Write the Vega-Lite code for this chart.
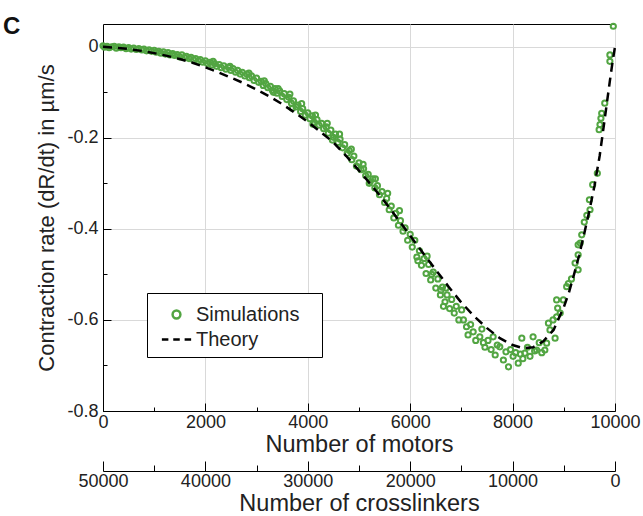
{
  "$schema": "https://vega.github.io/schema/vega-lite/v6.json",
  "autosize": "none",
  "width": 512,
  "height": 387,
  "padding": {"left": 103, "top": 24, "right": 28, "bottom": 105},
  "config": {
    "font": "Liberation Sans",
    "view": {"stroke": "black", "strokeWidth": 1},
    "axis": {"labelFont": "Liberation Sans", "titleFont": "Liberation Sans", "labelColor": "#222", "titleColor": "#222", "domainColor": "black", "tickColor": "black", "labelFontSize": 18, "titleFontSize": 22, "titleFontWeight": "normal", "gridColor": "#d9d9d9"}
  },
  "title": {"text": "C", "anchor": "start", "frame": "group", "dx": -100, "fontSize": 24, "fontWeight": "bold", "font": "Liberation Sans", "color": "#111", "baseline": "alphabetic", "offset": 0, "dy": 38},
  "datasets": {
    "sim": [
      {"m":0,"v":0.002,"series":"Simulations"},{"m":30,"v":-0.001,"series":"Simulations"},{"m":80,"v":0.001,"series":"Simulations"},{"m":120,"v":-0.002,"series":"Simulations"},{"m":170,"v":0.0,"series":"Simulations"},{"m":220,"v":0.001,"series":"Simulations"},{"m":260,"v":-0.003,"series":"Simulations"},{"m":310,"v":0.0,"series":"Simulations"},{"m":350,"v":-0.002,"series":"Simulations"},{"m":400,"v":-0.001,"series":"Simulations"},{"m":450,"v":-0.004,"series":"Simulations"},{"m":500,"v":-0.002,"series":"Simulations"},{"m":550,"v":-0.005,"series":"Simulations"},{"m":600,"v":-0.003,"series":"Simulations"},{"m":650,"v":-0.006,"series":"Simulations"},{"m":700,"v":-0.004,"series":"Simulations"},{"m":760,"v":-0.007,"series":"Simulations"},{"m":800,"v":-0.005,"series":"Simulations"},{"m":850,"v":-0.009,"series":"Simulations"},{"m":900,"v":-0.007,"series":"Simulations"},{"m":950,"v":-0.01,"series":"Simulations"},{"m":1000,"v":-0.008,"series":"Simulations"},
      {"m":1040,"v":-0.012,"series":"Simulations"},{"m":1090,"v":-0.01,"series":"Simulations"},{"m":1130,"v":-0.014,"series":"Simulations"},{"m":1180,"v":-0.011,"series":"Simulations"},{"m":1220,"v":-0.016,"series":"Simulations"},{"m":1270,"v":-0.013,"series":"Simulations"},{"m":1310,"v":-0.018,"series":"Simulations"},{"m":1360,"v":-0.015,"series":"Simulations"},{"m":1400,"v":-0.019,"series":"Simulations"},{"m":1450,"v":-0.017,"series":"Simulations"},{"m":1500,"v":-0.022,"series":"Simulations"},{"m":1540,"v":-0.018,"series":"Simulations"},{"m":1590,"v":-0.024,"series":"Simulations"},{"m":1630,"v":-0.021,"series":"Simulations"},{"m":1680,"v":-0.026,"series":"Simulations"},{"m":1720,"v":-0.023,"series":"Simulations"},{"m":1770,"v":-0.029,"series":"Simulations"},{"m":1810,"v":-0.026,"series":"Simulations"},{"m":1860,"v":-0.031,"series":"Simulations"},{"m":1900,"v":-0.028,"series":"Simulations"},{"m":1950,"v":-0.034,"series":"Simulations"},{"m":2000,"v":-0.031,"series":"Simulations"},
      {"m":2040,"v":-0.037,"series":"Simulations"},{"m":2090,"v":-0.034,"series":"Simulations"},{"m":2130,"v":-0.04,"series":"Simulations"},{"m":2180,"v":-0.037,"series":"Simulations"},{"m":2220,"v":-0.043,"series":"Simulations"},{"m":2270,"v":-0.039,"series":"Simulations"},{"m":2310,"v":-0.046,"series":"Simulations"},{"m":2360,"v":-0.042,"series":"Simulations"},{"m":2400,"v":-0.049,"series":"Simulations"},{"m":2450,"v":-0.045,"series":"Simulations"},{"m":2500,"v":-0.052,"series":"Simulations"},{"m":2540,"v":-0.048,"series":"Simulations"},{"m":2590,"v":-0.056,"series":"Simulations"},{"m":2630,"v":-0.052,"series":"Simulations"},{"m":2680,"v":-0.06,"series":"Simulations"},{"m":2720,"v":-0.056,"series":"Simulations"},{"m":2770,"v":-0.064,"series":"Simulations"},{"m":2810,"v":-0.06,"series":"Simulations"},{"m":2860,"v":-0.068,"series":"Simulations"},{"m":2900,"v":-0.064,"series":"Simulations"},{"m":2950,"v":-0.074,"series":"Simulations"},{"m":3000,"v":-0.069,"series":"Simulations"},
      {"m":3040,"v":-0.078,"series":"Simulations"},{"m":3090,"v":-0.076,"series":"Simulations"},{"m":3130,"v":-0.085,"series":"Simulations"},{"m":3180,"v":-0.081,"series":"Simulations"},{"m":3220,"v":-0.09,"series":"Simulations"},{"m":3270,"v":-0.087,"series":"Simulations"},{"m":3310,"v":-0.096,"series":"Simulations"},{"m":3360,"v":-0.092,"series":"Simulations"},{"m":3400,"v":-0.102,"series":"Simulations"},{"m":3450,"v":-0.097,"series":"Simulations"},{"m":3500,"v":-0.109,"series":"Simulations"},{"m":3540,"v":-0.103,"series":"Simulations"},{"m":3590,"v":-0.116,"series":"Simulations"},{"m":3630,"v":-0.111,"series":"Simulations"},{"m":3680,"v":-0.124,"series":"Simulations"},{"m":3720,"v":-0.119,"series":"Simulations"},{"m":3770,"v":-0.132,"series":"Simulations"},{"m":3810,"v":-0.128,"series":"Simulations"},{"m":3860,"v":-0.142,"series":"Simulations"},{"m":3900,"v":-0.136,"series":"Simulations"},{"m":3950,"v":-0.15,"series":"Simulations"},{"m":4000,"v":-0.145,"series":"Simulations"},
      {"m":4040,"v":-0.158,"series":"Simulations"},{"m":4090,"v":-0.152,"series":"Simulations"},{"m":4130,"v":-0.166,"series":"Simulations"},{"m":4180,"v":-0.16,"series":"Simulations"},{"m":4220,"v":-0.172,"series":"Simulations"},{"m":4270,"v":-0.168,"series":"Simulations"},{"m":4310,"v":-0.18,"series":"Simulations"},{"m":4360,"v":-0.176,"series":"Simulations"},{"m":4400,"v":-0.19,"series":"Simulations"},{"m":4450,"v":-0.183,"series":"Simulations"},{"m":4500,"v":-0.199,"series":"Simulations"},{"m":4540,"v":-0.192,"series":"Simulations"},{"m":4590,"v":-0.21,"series":"Simulations"},{"m":4630,"v":-0.203,"series":"Simulations"},{"m":4680,"v":-0.222,"series":"Simulations"},{"m":4720,"v":-0.215,"series":"Simulations"},{"m":4770,"v":-0.234,"series":"Simulations"},{"m":4810,"v":-0.228,"series":"Simulations"},{"m":4860,"v":-0.248,"series":"Simulations"},{"m":4900,"v":-0.24,"series":"Simulations"},{"m":4950,"v":-0.262,"series":"Simulations"},{"m":5000,"v":-0.255,"series":"Simulations"},
      {"m":5040,"v":-0.27,"series":"Simulations"},{"m":5090,"v":-0.268,"series":"Simulations"},{"m":5130,"v":-0.283,"series":"Simulations"},{"m":5180,"v":-0.28,"series":"Simulations"},{"m":5220,"v":-0.296,"series":"Simulations"},{"m":5270,"v":-0.29,"series":"Simulations"},{"m":5310,"v":-0.31,"series":"Simulations"},{"m":5360,"v":-0.305,"series":"Simulations"},{"m":5400,"v":-0.325,"series":"Simulations"},{"m":5450,"v":-0.318,"series":"Simulations"},{"m":5500,"v":-0.342,"series":"Simulations"},{"m":5540,"v":-0.333,"series":"Simulations"},{"m":5590,"v":-0.358,"series":"Simulations"},{"m":5630,"v":-0.35,"series":"Simulations"},{"m":5680,"v":-0.376,"series":"Simulations"},{"m":5720,"v":-0.366,"series":"Simulations"},{"m":5770,"v":-0.392,"series":"Simulations"},{"m":5810,"v":-0.382,"series":"Simulations"},{"m":5860,"v":-0.405,"series":"Simulations"},{"m":5900,"v":-0.398,"series":"Simulations"},{"m":5950,"v":-0.425,"series":"Simulations"},{"m":6000,"v":-0.412,"series":"Simulations"},
      {"m":6040,"v":-0.44,"series":"Simulations"},{"m":6090,"v":-0.425,"series":"Simulations"},{"m":6130,"v":-0.462,"series":"Simulations"},{"m":6180,"v":-0.448,"series":"Simulations"},{"m":6220,"v":-0.48,"series":"Simulations"},{"m":6270,"v":-0.465,"series":"Simulations"},{"m":6310,"v":-0.498,"series":"Simulations"},{"m":6360,"v":-0.478,"series":"Simulations"},{"m":6400,"v":-0.512,"series":"Simulations"},{"m":6450,"v":-0.495,"series":"Simulations"},{"m":6500,"v":-0.53,"series":"Simulations"},{"m":6540,"v":-0.51,"series":"Simulations"},{"m":6590,"v":-0.545,"series":"Simulations"},{"m":6630,"v":-0.528,"series":"Simulations"},{"m":6680,"v":-0.56,"series":"Simulations"},{"m":6720,"v":-0.545,"series":"Simulations"},{"m":6770,"v":-0.575,"series":"Simulations"},{"m":6810,"v":-0.555,"series":"Simulations"},{"m":6860,"v":-0.585,"series":"Simulations"},{"m":6900,"v":-0.57,"series":"Simulations"},
      {"m":2150,"v":-0.032,"series":"Simulations"},{"m":2480,"v":-0.043,"series":"Simulations"},{"m":2850,"v":-0.058,"series":"Simulations"},{"m":3150,"v":-0.075,"series":"Simulations"},{"m":3420,"v":-0.092,"series":"Simulations"},{"m":3650,"v":-0.104,"series":"Simulations"},{"m":3880,"v":-0.125,"series":"Simulations"},{"m":4150,"v":-0.15,"series":"Simulations"},{"m":4380,"v":-0.168,"series":"Simulations"},{"m":4620,"v":-0.192,"series":"Simulations"},{"m":4850,"v":-0.225,"series":"Simulations"},{"m":5080,"v":-0.258,"series":"Simulations"},{"m":5320,"v":-0.29,"series":"Simulations"},{"m":5560,"v":-0.322,"series":"Simulations"},{"m":5790,"v":-0.36,"series":"Simulations"},{"m":3330,"v":-0.1,"series":"Simulations"},{"m":3700,"v":-0.135,"series":"Simulations"},{"m":4100,"v":-0.17,"series":"Simulations"},{"m":4480,"v":-0.205,"series":"Simulations"},{"m":5200,"v":-0.3,"series":"Simulations"},{"m":6150,"v":-0.47,"series":"Simulations"},{"m":6330,"v":-0.46,"series":"Simulations"},{"m":6420,"v":-0.5,"series":"Simulations"},{"m":6600,"v":-0.535,"series":"Simulations"},{"m":6650,"v":-0.57,"series":"Simulations"},{"m":6700,"v":-0.53,"series":"Simulations"},
      {"m":6950,"v":-0.6,"series":"Simulations"},{"m":7005,"v":-0.578,"series":"Simulations"},{"m":7040,"v":-0.6,"series":"Simulations"},{"m":7100,"v":-0.615,"series":"Simulations"},{"m":7130,"v":-0.633,"series":"Simulations"},{"m":7180,"v":-0.61,"series":"Simulations"},{"m":7230,"v":-0.626,"series":"Simulations"},{"m":7280,"v":-0.645,"series":"Simulations"},{"m":7360,"v":-0.637,"series":"Simulations"},{"m":7400,"v":-0.62,"series":"Simulations"},{"m":7430,"v":-0.65,"series":"Simulations"},{"m":7460,"v":-0.66,"series":"Simulations"},{"m":7520,"v":-0.645,"series":"Simulations"},{"m":7580,"v":-0.665,"series":"Simulations"},{"m":7620,"v":-0.637,"series":"Simulations"},{"m":7660,"v":-0.677,"series":"Simulations"},{"m":7700,"v":-0.655,"series":"Simulations"},{"m":7750,"v":-0.659,"series":"Simulations"},{"m":7820,"v":-0.688,"series":"Simulations"},{"m":7870,"v":-0.67,"series":"Simulations"},{"m":7920,"v":-0.703,"series":"Simulations"},{"m":7960,"v":-0.665,"series":"Simulations"},{"m":8010,"v":-0.68,"series":"Simulations"},{"m":8060,"v":-0.672,"series":"Simulations"},{"m":8110,"v":-0.695,"series":"Simulations"},{"m":8150,"v":-0.675,"series":"Simulations"},{"m":8180,"v":-0.64,"series":"Simulations"},{"m":8200,"v":-0.685,"series":"Simulations"},{"m":8240,"v":-0.673,"series":"Simulations"},{"m":8290,"v":-0.66,"series":"Simulations"},{"m":8340,"v":-0.68,"series":"Simulations"},{"m":8400,"v":-0.637,"series":"Simulations"},{"m":8430,"v":-0.668,"series":"Simulations"},{"m":8470,"v":-0.666,"series":"Simulations"},{"m":8520,"v":-0.65,"series":"Simulations"},{"m":8570,"v":-0.672,"series":"Simulations"},{"m":8630,"v":-0.666,"series":"Simulations"},{"m":8665,"v":-0.651,"series":"Simulations"},{"m":8700,"v":-0.607,"series":"Simulations"},{"m":8730,"v":-0.622,"series":"Simulations"},{"m":8790,"v":-0.6,"series":"Simulations"},{"m":8830,"v":-0.64,"series":"Simulations"},{"m":8860,"v":-0.593,"series":"Simulations"},{"m":8880,"v":-0.574,"series":"Simulations"},{"m":8930,"v":-0.585,"series":"Simulations"},{"m":8860,"v":-0.556,"series":"Simulations"},{"m":8990,"v":-0.556,"series":"Simulations"},{"m":9056,"v":-0.527,"series":"Simulations"},{"m":9090,"v":-0.52,"series":"Simulations"},{"m":9150,"v":-0.51,"series":"Simulations"},{"m":9220,"v":-0.475,"series":"Simulations"},{"m":9280,"v":-0.49,"series":"Simulations"},{"m":9280,"v":-0.457,"series":"Simulations"},{"m":9280,"v":-0.435,"series":"Simulations"},{"m":9320,"v":-0.431,"series":"Simulations"},{"m":9350,"v":-0.413,"series":"Simulations"},{"m":9400,"v":-0.385,"series":"Simulations"},{"m":9450,"v":-0.37,"series":"Simulations"},{"m":9500,"v":-0.336,"series":"Simulations"},{"m":9512,"v":-0.358,"series":"Simulations"},{"m":9564,"v":-0.303,"series":"Simulations"},{"m":9655,"v":-0.278,"series":"Simulations"},{"m":9690,"v":-0.182,"series":"Simulations"},{"m":9707,"v":-0.171,"series":"Simulations"},{"m":9725,"v":-0.157,"series":"Simulations"},{"m":9740,"v":-0.146,"series":"Simulations"},{"m":9800,"v":-0.124,"series":"Simulations"},{"m":9900,"v":-0.032,"series":"Simulations"},{"m":9900,"v":-0.018,"series":"Simulations"},{"m":9967,"v":0.045,"series":"Simulations"}
    ],
    "theory": [
      {"m":0,"v":0,"series":"Theory"},{"m":250,"v":-0.002,"series":"Theory"},{"m":500,"v":-0.005,"series":"Theory"},{"m":750,"v":-0.009,"series":"Theory"},{"m":1000,"v":-0.014,"series":"Theory"},{"m":1250,"v":-0.02,"series":"Theory"},{"m":1500,"v":-0.027,"series":"Theory"},{"m":1750,"v":-0.035,"series":"Theory"},{"m":2000,"v":-0.045,"series":"Theory"},{"m":2250,"v":-0.056,"series":"Theory"},{"m":2500,"v":-0.068,"series":"Theory"},{"m":2750,"v":-0.08,"series":"Theory"},{"m":3000,"v":-0.094,"series":"Theory"},{"m":3250,"v":-0.109,"series":"Theory"},{"m":3500,"v":-0.126,"series":"Theory"},{"m":3750,"v":-0.145,"series":"Theory"},{"m":4000,"v":-0.165,"series":"Theory"},{"m":4250,"v":-0.187,"series":"Theory"},{"m":4500,"v":-0.21,"series":"Theory"},{"m":4750,"v":-0.24,"series":"Theory"},{"m":5000,"v":-0.272,"series":"Theory"},{"m":5250,"v":-0.305,"series":"Theory"},{"m":5500,"v":-0.34,"series":"Theory"},{"m":5750,"v":-0.377,"series":"Theory"},{"m":6000,"v":-0.415,"series":"Theory"},{"m":6250,"v":-0.453,"series":"Theory"},{"m":6500,"v":-0.49,"series":"Theory"},{"m":6750,"v":-0.527,"series":"Theory"},{"m":7000,"v":-0.562,"series":"Theory"},{"m":7250,"v":-0.592,"series":"Theory"},{"m":7500,"v":-0.618,"series":"Theory"},{"m":7750,"v":-0.64,"series":"Theory"},{"m":8000,"v":-0.655,"series":"Theory"},{"m":8200,"v":-0.662,"series":"Theory"},{"m":8400,"v":-0.66,"series":"Theory"},{"m":8600,"v":-0.647,"series":"Theory"},{"m":8800,"v":-0.622,"series":"Theory"},{"m":9000,"v":-0.572,"series":"Theory"},{"m":9100,"v":-0.54,"series":"Theory"},{"m":9200,"v":-0.5,"series":"Theory"},{"m":9300,"v":-0.458,"series":"Theory"},{"m":9400,"v":-0.41,"series":"Theory"},{"m":9500,"v":-0.36,"series":"Theory"},{"m":9600,"v":-0.305,"series":"Theory"},{"m":9700,"v":-0.24,"series":"Theory"},{"m":9800,"v":-0.158,"series":"Theory"},{"m":9900,"v":-0.075,"series":"Theory"},{"m":9950,"v":-0.035,"series":"Theory"},{"m":10000,"v":0,"series":"Theory"}
    ]
  },
  "resolve": {"scale": {"x": "independent"}},
  "layer": [
    {
      "mark": {"type": "rule", "color": "black", "strokeWidth": 1},
      "encoding": {"y": {"datum": 0, "type": "quantitative"}}
    },
    {
      "data": {"name": "sim"},
      "mark": {"type": "point", "filled": false, "size": 300, "strokeWidth": 2, "opacity": 1},
      "encoding": {
        "x": {"field": "m", "type": "quantitative", "scale": {"domain": [0, 10000], "nice": false},
          "axis": {"title": "Number of motors", "titleFontSize": 23.5, "values": [0,1000,2000,3000,4000,5000,6000,7000,8000,9000,10000], "format": "d",
            "labelExpr": "datum.value % 2000 === 0 ? datum.label : ''",
            "tickSize": {"expr": "datum.value % 2000 === 0 ? -8 : -4"},
            "gridOpacity": {"expr": "datum.value % 2000 === 0 ? 1 : 0"},
            "grid": true, "labelPadding": 10, "titlePadding": 1, "labelFlush": false}},
        "y": {"field": "v", "type": "quantitative", "scale": {"domain": [-0.8, 0.05], "nice": false, "zero": false},
          "axis": {"title": "Contraction rate (dR/dt) in µm/s", "values": [-0.8,-0.7,-0.6,-0.5,-0.4,-0.3,-0.2,-0.1,0],
            "labelExpr": "abs(round(datum.value*10)) % 2 === 0 ? (datum.value === 0 ? '0' : '-' + format(abs(datum.value), '.1f')) : ''",
            "tickSize": {"expr": "abs(round(datum.value*10)) % 2 === 0 ? -8 : -4"},
            "gridOpacity": {"expr": "abs(round(datum.value*10)) % 2 === 0 ? 1 : 0"},
            "grid": true, "labelPadding": 13, "titlePadding": 8}},
        "shape": {"field": "series", "type": "nominal",
          "scale": {"domain": ["Simulations", "Theory"], "range": ["M0.3,0A0.3,0.3,0,1,1,-0.3,0A0.3,0.3,0,1,1,0.3,0Z", "M-1.125,0H-0.625M-0.25,0H0.25M0.625,0H1.125"]}},
        "color": {"field": "series", "type": "nominal",
          "scale": {"domain": ["Simulations", "Theory"], "range": ["#52a542", "black"]},
          "legend": {"title": null, "orient": "none", "legendX": 44, "legendY": 269, "strokeColor": "black", "fillColor": "white", "padding": 7,
            "labelFontSize": 20, "labelFont": "Liberation Sans", "labelColor": "#222", "rowPadding": 0, "labelOffset": 5,
            "symbolSize": 676, "symbolStrokeWidth": 2.5, "symbolOffset": 8,
            "labelExpr": "datum.label + '\u2800'"}}
      }
    },
    {
      "data": {"name": "theory"},
      "mark": {"type": "line", "strokeWidth": 2.5, "strokeDash": [9, 6], "color": "black"},
      "encoding": {
        "x": {"field": "m", "type": "quantitative", "scale": {"domain": [0, 10000], "nice": false},
          "axis": {"title": "Number of crosslinkers", "titleFontSize": 23.5, "orient": "bottom", "offset": 60, "values": [0,1000,2000,3000,4000,5000,6000,7000,8000,9000,10000],
            "labelExpr": "datum.value % 2000 === 0 ? format(50000 - 5 * datum.value, 'd') : ''",
            "tickSize": {"expr": "datum.value % 2000 === 0 ? -10 : -6"},
            "grid": false, "labelPadding": 11, "titlePadding": 1, "labelFlush": false}},
        "y": {"field": "v", "type": "quantitative"}
      }
    }
  ]
}
